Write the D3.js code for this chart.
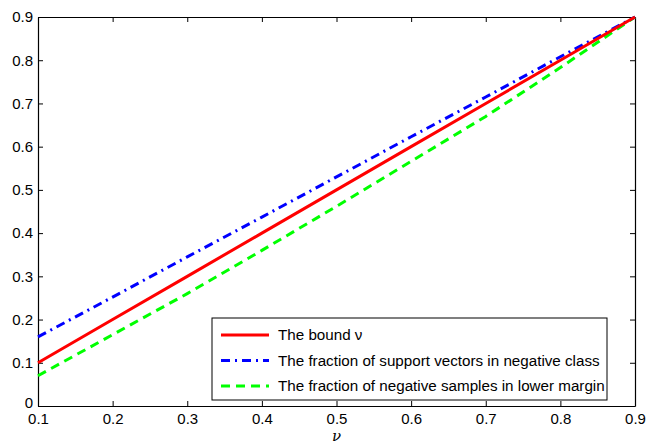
<!DOCTYPE html>
<html>
<head>
<meta charset="utf-8">
<script src="https://cdn.jsdelivr.net/npm/d3@7"></script>
<style>
  body { margin: 0; background: #fff; }
  text { font-family: "Liberation Sans", Arial, sans-serif; fill: #000; }
</style>
</head>
<body>
<div id="chart"></div>
<script>
let width = 656, height = 446;
let margin = {left: 38, right: 21, top: 17, bottom: 40};

// data
let nu = [0.1, 0.2, 0.3, 0.4, 0.5, 0.6, 0.7, 0.8, 0.9];
let bound = [0.1, 0.2, 0.3, 0.4, 0.5, 0.6, 0.7, 0.8, 0.9];
let fracSV = [0.16, 0.252, 0.345, 0.437, 0.53, 0.623, 0.715, 0.808, 0.9];
let fracNeg = [0.07, 0.165, 0.26, 0.36, 0.462, 0.566, 0.67, 0.783, 0.9];
let xTicks = [0.1, 0.2, 0.3, 0.4, 0.5, 0.6, 0.7, 0.8, 0.9];
let yTicks = [0, 0.1, 0.2, 0.3, 0.4, 0.5, 0.6, 0.7, 0.8, 0.9];
let legendLabels = ['The bound \u03bd', 'The fraction of support vectors in negative class', 'The fraction of negative samples in lower margin'];

let series = [
    {values: bound, color: '#ff0000', dash: null},
    {values: fracSV, color: '#0000ff', dash: '9,5,2,5'},
    {values: fracNeg, color: '#00ff00', dash: '9,6'}
];

let svg = d3.select('#chart')
    .append('svg')
    .attr('width', width)
    .attr('height', height);

let x = d3.scaleLinear().domain([0.1, 0.9]).range([margin.left, width - margin.right]);
let y = d3.scaleLinear().domain([0, 0.9]).range([height - margin.bottom, margin.top]);

let fmt = d => d === 0 ? '0' : d3.format('.1f')(d);

// axes with ticks pointing inward, box on all sides
svg.append('g')
    .attr('transform', `translate(0,${y(0)})`)
    .call(d3.axisBottom(x).tickValues(xTicks).tickSizeInner(-5).tickSizeOuter(0).tickPadding(7).tickFormat(fmt))
    .call(g => g.selectAll('text').style('font-size', '15px'));
svg.append('g')
    .attr('transform', `translate(0,${y(0.9)})`)
    .call(d3.axisTop(x).tickValues(xTicks).tickSizeInner(-5).tickSizeOuter(0).tickFormat(''));
svg.append('g')
    .attr('transform', `translate(${x(0.1)},0)`)
    .call(d3.axisLeft(y).tickValues(yTicks).tickSizeInner(-5).tickSizeOuter(0).tickPadding(5).tickFormat(fmt))
    .call(g => g.selectAll('text').style('font-size', '15px'))
    .call(g => g.selectAll('text').filter(d => d === 0).attr('dy', '0.12em'));
svg.append('g')
    .attr('transform', `translate(${x(0.9)},0)`)
    .call(d3.axisRight(y).tickValues(yTicks).tickSizeInner(-5).tickSizeOuter(0).tickFormat(''));

svg.selectAll('.domain').attr('stroke', '#000').attr('stroke-width', 1.2);
svg.selectAll('.tick line').attr('stroke', '#000');

svg.append('text')
    .attr('x', x(0.5))
    .attr('y', height - 5)
    .attr('text-anchor', 'middle')
    .style('font-size', '15px')
    .style('font-style', 'italic')
    .style('font-family', '"DejaVu Serif", serif')
    .text('\u03bd');

let line = d3.line()
    .x((d, i) => x(nu[i]))
    .y(d => y(d));

svg.append('defs').append('clipPath').attr('id', 'clip')
    .append('rect')
    .attr('x', x(0.1) - 2).attr('y', y(0.9) - 2)
    .attr('width', x(0.9) - x(0.1) + 4).attr('height', y(0) - y(0.9) + 2);

// draw green first, red on top like the picture
[series[2], series[1], series[0]].forEach(s => {
    svg.append('path')
        .datum(s.values)
        .attr('d', line)
        .attr('fill', 'none')
        .attr('stroke', s.color)
        .attr('stroke-width', 3)
        .attr('stroke-dasharray', s.dash)
        .attr('clip-path', 'url(#clip)');
});

// legend
let lx = 212, ly = 318, lw = 395, lh = 82;
let legend = svg.append('g');
legend.append('rect')
    .attr('x', lx).attr('y', ly)
    .attr('width', lw).attr('height', lh)
    .attr('fill', '#fff')
    .attr('stroke', '#000')
    .attr('stroke-width', 1);
let rowY = d3.scalePoint().domain(d3.range(legendLabels.length)).range([335, 386]);
legendLabels.forEach((lab, i) => {
    legend.append('line')
        .attr('x1', lx + 9).attr('x2', lx + 57)
        .attr('y1', rowY(i)).attr('y2', rowY(i))
        .attr('stroke', series[i].color)
        .attr('stroke-width', 3)
        .attr('stroke-dasharray', series[i].dash);
    legend.append('text')
        .attr('x', lx + 66)
        .attr('y', rowY(i))
        .attr('dy', '0.35em')
        .style('font-size', '15.2px')
        .text(lab);
});
</script>
</body>
</html>
